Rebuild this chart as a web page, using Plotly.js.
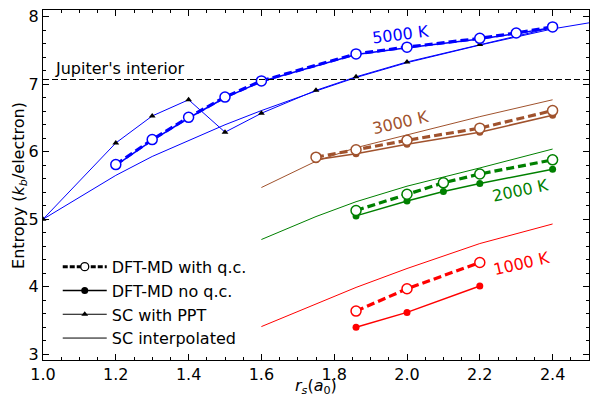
<!DOCTYPE html>
<html>
<head>
<meta charset="utf-8">
<script src="https://cdn.plot.ly/plotly-3.0.1.min.js"></script>
<style>html,body{margin:0;padding:0;background:#fff;}#chart{width:590px;height:398px;}</style>
</head>
<body>
<div id="chart"></div>
<script>
// ---------- data ----------
// 5000 K
const x5000qc = [1.2, 1.3, 1.4, 1.5, 1.6, 1.86, 2.0, 2.2, 2.3, 2.4];
const s5000qc = [5.81, 6.18, 6.51, 6.81, 7.05, 7.45, 7.55, 7.68, 7.76, 7.85];
const x5000noqc = [1.2, 1.3, 1.4, 1.5, 1.6, 1.86, 2.0, 2.2, 2.3, 2.4];
const s5000noqc = [5.80, 6.17, 6.50, 6.80, 7.04, 7.44, 7.54, 7.67, 7.75, 7.84];
const x5000ppt = [1.0, 1.2, 1.3, 1.4, 1.5, 1.6, 1.75, 1.86, 2.0, 2.2, 2.4];
const s5000ppt = [5.0, 6.13, 6.53, 6.77, 6.29, 6.57, 6.91, 7.11, 7.33, 7.59, 7.84];
const x5000sc = [1.0, 1.1, 1.2, 1.3, 1.4, 1.5, 1.6, 1.75, 1.86, 2.0, 2.2, 2.4, 2.5];
const s5000sc = [5.0, 5.32, 5.65, 5.93, 6.16, 6.40, 6.61, 6.90, 7.10, 7.32, 7.58, 7.82, 7.91];
// 3000 K
const x3000qc = [1.75, 1.86, 2.0, 2.2, 2.4];
const s3000qc = [5.92, 6.03, 6.17, 6.35, 6.61];
const s3000noqc = [5.88, 5.97, 6.11, 6.29, 6.54];
const x3000sc = [1.6, 1.75, 1.86, 2.0, 2.2, 2.4];
const s3000sc = [5.47, 5.86, 6.06, 6.25, 6.52, 6.77];
// 2000 K
const x2000qc = [1.86, 2.0, 2.1, 2.2, 2.4];
const s2000qc = [5.13, 5.37, 5.54, 5.67, 5.88];
const s2000noqc = [5.05, 5.27, 5.41, 5.53, 5.74];
const x2000sc = [1.6, 1.75, 1.86, 2.0, 2.2, 2.4];
const s2000sc = [4.70, 5.04, 5.26, 5.49, 5.76, 6.04];
// 1000 K
const x1000qc = [1.86, 2.0, 2.2];
const s1000qc = [3.64, 3.97, 4.36];
const s1000noqc = [3.40, 3.62, 4.01];
const x1000sc = [1.6, 1.75, 1.86, 2.0, 2.2, 2.4];
const s1000sc = [3.41, 3.74, 3.99, 4.27, 4.64, 4.93];
// reference level
const jupiterS = 7.07;
const xRange = [1.0, 2.5];
const yRange = [2.915, 8.1];
const legendNames = ["DFT-MD with q.c.", "DFT-MD no q.c.", "SC with PPT", "SC interpolated"];
const xTitle = "<i>r</i><sub><i>s</i></sub>(<i>a</i><sub>0</sub>)";
const yTitle = "Entropy (<i>k</i><sub><i>b</i></sub>/electron)";

// ---------- styles ----------
const FONT = "DejaVu Sans, Liberation Sans, sans-serif";
const BLUE = "#0000ff", BROWN = "#a0522d", GREEN = "#008000", RED = "#ff0000";
const DASH = "8px,4px";

function qcTrace(x, y, c) {
  return {x: x, y: y, type: "scatter", mode: "lines+markers", showlegend: false,
    line: {color: c, width: 3.2, dash: DASH},
    marker: {symbol: "circle", size: 10, color: "#ffffff", line: {color: c, width: 1.5}}};
}
function noqcTrace(x, y, c) {
  return {x: x, y: y, type: "scatter", mode: "lines+markers", showlegend: false,
    line: {color: c, width: 1.5}, marker: {symbol: "circle", size: 7, color: c}};
}
function scTrace(x, y, c) {
  return {x: x, y: y, type: "scatter", mode: "lines", showlegend: false,
    line: {color: c, width: 1}};
}

const traces = [
  scTrace(x5000sc, s5000sc, BLUE),
  {x: x5000ppt, y: s5000ppt, type: "scatter", mode: "lines+markers", showlegend: false,
   line: {color: BLUE, width: 1}, marker: {symbol: "triangle-up", size: 6, color: "#000000"}},
  noqcTrace(x5000noqc, s5000noqc, BLUE),
  qcTrace(x5000qc, s5000qc, BLUE),
  scTrace(x3000sc, s3000sc, BROWN),
  noqcTrace(x3000qc, s3000noqc, BROWN),
  qcTrace(x3000qc, s3000qc, BROWN),
  scTrace(x2000sc, s2000sc, GREEN),
  noqcTrace(x2000qc, s2000noqc, GREEN),
  qcTrace(x2000qc, s2000qc, GREEN),
  scTrace(x1000sc, s1000sc, RED),
  noqcTrace(x1000qc, s1000noqc, RED),
  qcTrace(x1000qc, s1000qc, RED),
  // Jupiter's interior level
  {x: xRange, y: [jupiterS, jupiterS], type: "scatter", mode: "lines", showlegend: false,
   line: {color: "#000000", width: 1.1, dash: "6px,3px"}, hoverinfo: "skip"},
  // legend entries (black)
  {x: [null], y: [null], type: "scatter", mode: "lines+markers", name: legendNames[0],
   line: {color: "#000000", width: 3, dash: "5px,2px"},
   marker: {symbol: "circle", size: 8, color: "#ffffff", line: {color: "#000000", width: 1.3}}},
  {x: [null], y: [null], type: "scatter", mode: "lines+markers", name: legendNames[1],
   line: {color: "#000000", width: 1.5}, marker: {symbol: "circle", size: 7, color: "#000000"}},
  {x: [null], y: [null], type: "scatter", mode: "lines+markers", name: legendNames[2],
   line: {color: "#000000", width: 1}, marker: {symbol: "triangle-up", size: 6, color: "#000000"}},
  {x: [null], y: [null], type: "scatter", mode: "lines", name: legendNames[3],
   line: {color: "#000000", width: 1}}
];

const tickStyle = {ticks: "inside", ticklen: 6, tickwidth: 1, tickcolor: "#000",
  showline: true, linecolor: "#000", linewidth: 1, mirror: "allticks",
  showgrid: false, zeroline: false, tickfont: {family: FONT, size: 16, color: "#000"}};

const layout = {
  width: 590, height: 398,
  margin: {l: 43, r: 1, t: 10, b: 38},
  paper_bgcolor: "#fff", plot_bgcolor: "#fff",
  font: {family: FONT, size: 16, color: "#000"},
  xaxis: Object.assign({}, tickStyle, {
    range: xRange, tick0: 1.0, dtick: 0.2, tickformat: ".1f",
    minor: {dtick: 0.05, ticks: "inside", ticklen: 3, tickcolor: "#000", showgrid: false}
  }),
  yaxis: Object.assign({}, tickStyle, {
    range: yRange, tick0: 3, dtick: 1,
    minor: {dtick: 0.2, ticks: "inside", ticklen: 3, tickcolor: "#000", showgrid: false}
  }),
  showlegend: true,
  legend: {x: 0.027, y: 0.315, xanchor: "left", yanchor: "top", bgcolor: "rgba(255,255,255,0)",
    font: {family: FONT, size: 16, color: "#000"}, traceorder: "normal", tracegroupgap: 0,
    itemwidth: 44},
  annotations: [
    {x: 0.5, y: -0.077, xref: "paper", yref: "paper", text: xTitle, showarrow: false, borderpad: 0,
     xanchor: "center", yanchor: "middle", font: {family: FONT, size: 16, color: "#000"}},
    {x: -0.044, y: 0.5, xref: "paper", yref: "paper", text: yTitle, showarrow: false, textangle: -90,
     xanchor: "center", yanchor: "middle", font: {family: FONT, size: 16, color: "#000"}},
    {x: 1.028, y: jupiterS, xref: "x", yref: "y", text: "Jupiter's interior", showarrow: false,
     xanchor: "left", yanchor: "bottom", yshift: 0, font: {family: FONT, size: 16, color: "#000"}},
    {x: 1.981, y: 7.744, xref: "x", yref: "y", text: "5000 K", showarrow: false, textangle: -7,
     font: {family: FONT, size: 16, color: BLUE}},
    {x: 1.982, y: 6.44, xref: "x", yref: "y", text: "3000 K", showarrow: false, textangle: -13,
     font: {family: FONT, size: 16, color: BROWN}},
    {x: 2.311, y: 5.43, xref: "x", yref: "y", text: "2000 K", showarrow: false, textangle: -12,
     font: {family: FONT, size: 16, color: GREEN}},
    {x: 2.315, y: 4.35, xref: "x", yref: "y", text: "1000 K", showarrow: false, textangle: -13,
     font: {family: FONT, size: 16, color: RED}}
  ]
};

Plotly.newPlot("chart", traces, layout, {displayModeBar: false, staticPlot: true});
</script>
</body>
</html>
